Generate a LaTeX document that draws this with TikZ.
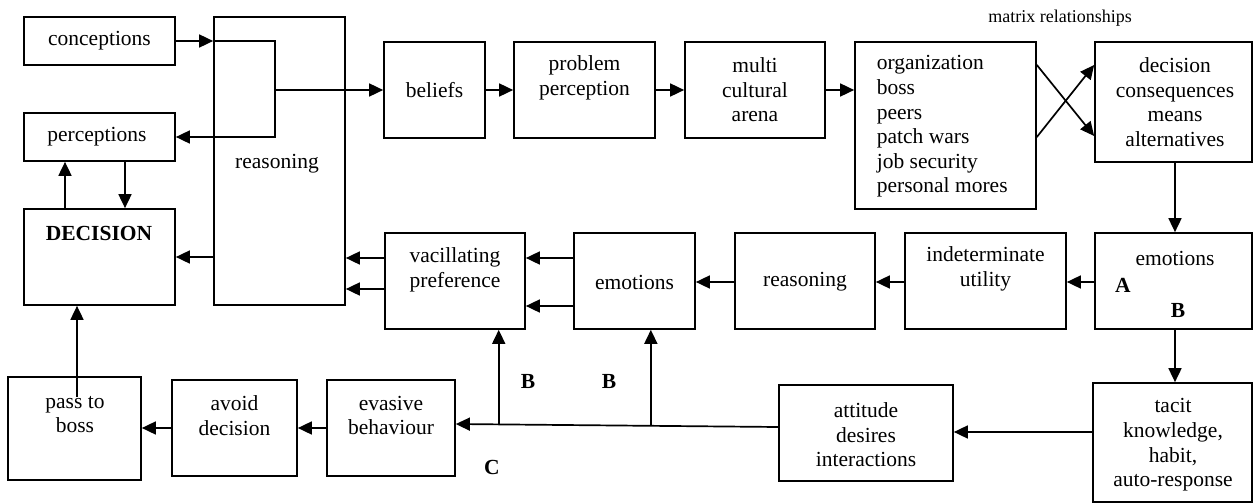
\documentclass[tikz,border=0pt]{standalone}
\usepackage{fontspec}
\setmainfont{Liberation Serif}
\usetikzlibrary{arrows.meta}
\newcommand\boxnode[5]{\node[box, minimum width={#4-#2}, minimum height={#5-#3}] (#1) at ({(#2+#4)/2},{(#3+#5)/2}) {};}
\begin{document}
\begin{tikzpicture}[x=1pt,y=-1pt, line width=1.7pt,
  box/.style={draw, rectangle, inner sep=0pt},
  txt/.style={inner sep=0pt, align=center, font=\fontsize{21.5}{24.6}\selectfont},
  lab/.style={inner sep=0pt, font=\fontsize{21.5}{24.6}\selectfont\bfseries},
  arr/.style={-{Triangle[length=14pt,width=13pt]}}]
\useasboundingbox (0,0) rectangle (1253,503);
% boxes
\boxnode{conc}{24}{17}{175}{65}
\boxnode{perc}{24}{113}{175}{161}
\boxnode{dec}{24}{209}{175}{305}
\boxnode{reas}{214}{17}{345}{305}
\boxnode{bel}{384}{42}{485}{138}
\boxnode{prob}{514}{42}{655}{138}
\boxnode{multi}{685}{42}{825}{138}
\boxnode{org}{855}{42}{1036}{209}
\boxnode{dcons}{1095}{42}{1252}{162}
\boxnode{emoR}{1095}{233}{1252}{329}
\boxnode{tacit}{1093}{383}{1252}{502}
\boxnode{indet}{905}{233}{1066}{329}
\boxnode{reasM}{735}{233}{875}{329}
\boxnode{emoM}{574}{233}{695}{329}
\boxnode{vac}{385}{233}{525}{329}
\boxnode{att}{779}{385}{953}{481}
\boxnode{eva}{327}{380}{455}{476}
\boxnode{avoid}{172}{380}{297}{476}
\boxnode{pass}{8}{377}{141}{480}
% texts
\node[txt] (tconc) at (99.5,41) {conceptions};
\node[txt] (tperc) at (97,137) {perceptions};
\node[lab, anchor=west] (tdec) at (45,233) {DECISION};
\node[txt] (treas) at (277,164) {reasoning};
\node[txt] (tbel) at (434.5,90) {beliefs};
\node[txt] (tprob) at (584.5,78) {problem\\perception};
\node[txt] (tmulti) at (755,90) {multi\\cultural\\arena};
\node[txt, align=left, anchor=west] (torg) at (876,126.5) {organization\\boss\\peers\\patch wars\\job security\\personal mores};
\node[txt] (tdcons) at (1175,102) {decision\\consequences\\means\\alternatives};
\node[txt] (tmatrix) at (1060,18) {\fontsize{18}{20}\selectfont matrix relationships};
\node[txt] (temoR) at (1175,258) {emotions};
\node[lab] (tA) at (1123,285) {A};
\node[lab] (tB1) at (1178,310) {B};
\node[txt] (ttacit) at (1173,445) {tacit\\knowledge,\\habit,\\auto-response};
\node[txt] (tindet) at (985.5,269) {indeterminate\\utility};
\node[txt] (treasM) at (805,282) {reasoning};
\node[txt] (temoM) at (634.5,282) {emotions};
\node[txt] (tvac) at (455,270) {vacillating\\preference};
\node[txt] (tatt) at (866,435) {attitude\\desires\\interactions};
\node[txt] (teva) at (391,415.5) {evasive\\behaviour};
\node[txt] (tavoid) at (234.5,415.5) {avoid\\decision};
\node[txt] (tpass) at (75,414.5) {pass to\\boss};
\node[lab] (tB2) at (528,381) {B};
\node[lab] (tB3) at (609,381) {B};
\node[lab] (tC) at (492,467) {C};
% connectors top-left
\draw[arr] (conc.east) -- (conc.east -| reas.west);
\coordinate (jr) at (275,90);
\draw[arr] (conc.east -| reas.west) -| (jr) |- (perc.east);
\draw[arr] (jr) -- (bel.west);
\draw[arr] (dec.north -| 65,0) -- (perc.south -| 65,0);
\draw[arr] (perc.south -| 125,0) -- (dec.north -| 125,0);
\draw[arr] (reas.west |- 0,257) -- (dec.east |- 0,257);
\draw[arr] (vac.west |- 0,258) -- (reas.east |- 0,258);
\draw[arr] (vac.west |- 0,289) -- (reas.east |- 0,289);
% top row
\draw[arr] (bel.east) -- (prob.west);
\draw[arr] (prob.east) -- (multi.west);
\draw[arr] (multi.east) -- (org.west |- multi.east);
\draw[arr] (org.east |- 0,65) -- (dcons.west |- 0,136);
\draw[arr] (org.east |- 0,137) -- (dcons.west |- 0,65);
\draw[arr] (dcons.south -| 1175,0) -- (emoR.north -| 1175,0);
% middle row
\draw[arr] (emoR.west |- 0,282) -- (indet.east |- 0,282);
\draw[arr] (indet.west |- 0,282) -- (reasM.east |- 0,282);
\draw[arr] (reasM.west |- 0,282) -- (emoM.east |- 0,282);
\draw[arr] (emoM.west |- 0,258) -- (vac.east |- 0,258);
\draw[arr] (emoM.west |- 0,306) -- (vac.east |- 0,306);
\draw[arr] (emoR.south -| 1175,0) -- (tacit.north -| 1175,0);
% bottom row
\draw[arr] (tacit.west |- 0,432) -- (att.east |- 0,432);
\draw[arr] (att.west |- 0,427) -- coordinate[pos=0.395] (j2) coordinate[pos=0.867] (j1) (eva.east |- 0,424);
\draw[arr] (j1) -- (j1 |- vac.south);
\draw[arr] (j2) -- (j2 |- emoM.south);
\draw[arr] (eva.west |- 0,428) -- (avoid.east |- 0,428);
\draw[arr] (avoid.west |- 0,428) -- (pass.east |- 0,428);
\coordinate (pb) at (77,397);
\draw[arr] (pb) -- (pb |- dec.south);
\end{tikzpicture}
\end{document}
